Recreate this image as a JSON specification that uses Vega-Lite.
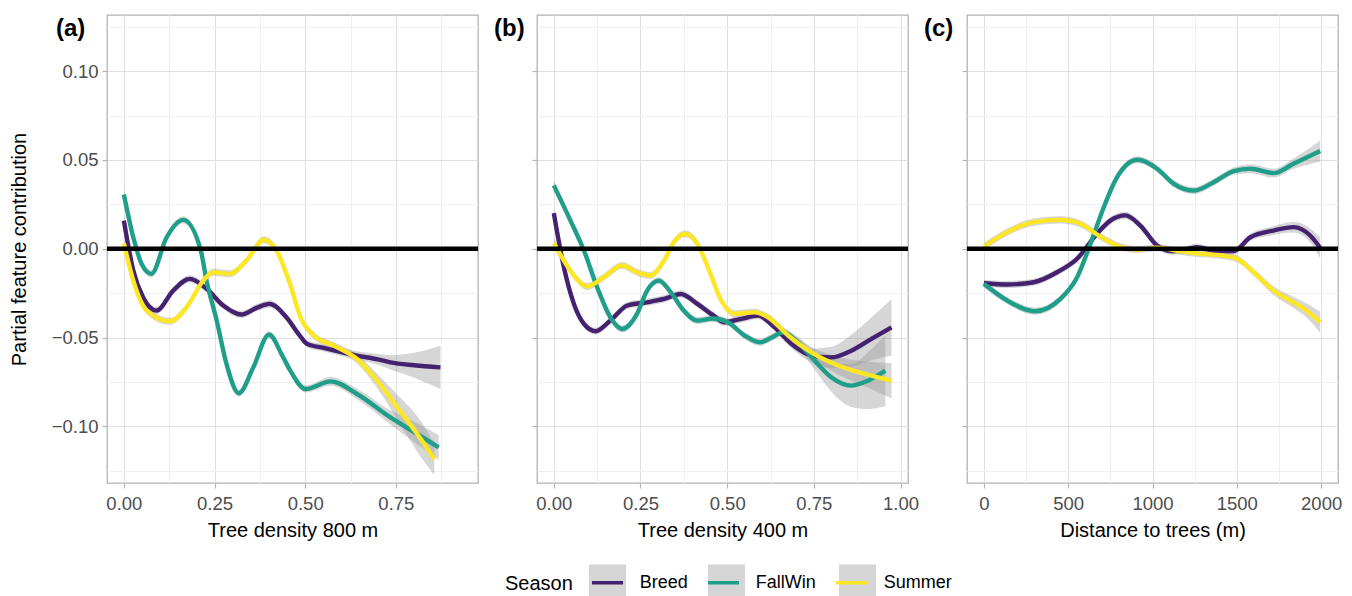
{
  "$schema": "https://vega.github.io/schema/vega-lite/v6.json",
  "padding": {"left": 8, "top": 14, "right": 5, "bottom": 0},
  "background": "white",
  "config": {
    "font": "Liberation Sans",
    "view": {"stroke": "#b3b3b3", "strokeWidth": 1.3},
    "axis": {
      "domain": false, "grid": true, "gridColor": "#e0e0e0", "gridWidth": 1,
      "tickColor": "#b3b3b3", "tickSize": 5, "tickWidth": 1.2,
      "labelFontSize": 18.5, "labelColor": "#4d4d4d", "labelOverlap": false, "labelFlush": false,
      "titleFontSize": 20, "titleFontWeight": "normal", "titleColor": "#000000"
    }
  },
  "datasets": {
    "d": [
      {"p":"a","s":"Breed","x":0,"y":0.0159,"lo":0.0129,"hi":0.0189},
      {"p":"a","s":"Breed","x":0.026,"y":-0.0122,"lo":-0.0142,"hi":-0.0102},
      {"p":"a","s":"Breed","x":0.053,"y":-0.0273,"lo":-0.0293,"hi":-0.0253},
      {"p":"a","s":"Breed","x":0.09,"y":-0.0348,"lo":-0.0368,"hi":-0.0328},
      {"p":"a","s":"Breed","x":0.136,"y":-0.0235,"lo":-0.0255,"hi":-0.0215},
      {"p":"a","s":"Breed","x":0.182,"y":-0.0169,"lo":-0.0189,"hi":-0.0149},
      {"p":"a","s":"Breed","x":0.228,"y":-0.0225,"lo":-0.0245,"hi":-0.0205},
      {"p":"a","s":"Breed","x":0.274,"y":-0.0319,"lo":-0.0339,"hi":-0.0299},
      {"p":"a","s":"Breed","x":0.324,"y":-0.037,"lo":-0.039,"hi":-0.035},
      {"p":"a","s":"Breed","x":0.366,"y":-0.0332,"lo":-0.0352,"hi":-0.0312},
      {"p":"a","s":"Breed","x":0.402,"y":-0.031,"lo":-0.033,"hi":-0.029},
      {"p":"a","s":"Breed","x":0.448,"y":-0.0385,"lo":-0.0405,"hi":-0.0365},
      {"p":"a","s":"Breed","x":0.485,"y":-0.0488,"lo":-0.0508,"hi":-0.0468},
      {"p":"a","s":"Breed","x":0.505,"y":-0.0535,"lo":-0.0555,"hi":-0.0515},
      {"p":"a","s":"Breed","x":0.551,"y":-0.0558,"lo":-0.0578,"hi":-0.0538},
      {"p":"a","s":"Breed","x":0.643,"y":-0.0601,"lo":-0.0626,"hi":-0.0576},
      {"p":"a","s":"Breed","x":0.7,"y":-0.0622,"lo":-0.0652,"hi":-0.0592},
      {"p":"a","s":"Breed","x":0.735,"y":-0.0639,"lo":-0.0679,"hi":-0.0599},
      {"p":"a","s":"Breed","x":0.8,"y":-0.0655,"lo":-0.0725,"hi":-0.0585},
      {"p":"a","s":"Breed","x":0.873,"y":-0.0667,"lo":-0.0789,"hi":-0.0545},

      {"p":"a","s":"FallWin","x":0,"y":0.0306,"lo":0.0276,"hi":0.0336},
      {"p":"a","s":"FallWin","x":0.026,"y":0.0065,"lo":0.0045,"hi":0.0085},
      {"p":"a","s":"FallWin","x":0.049,"y":-0.0085,"lo":-0.0105,"hi":-0.0065},
      {"p":"a","s":"FallWin","x":0.076,"y":-0.0141,"lo":-0.0161,"hi":-0.0121},
      {"p":"a","s":"FallWin","x":0.118,"y":0.0065,"lo":0.0045,"hi":0.0085},
      {"p":"a","s":"FallWin","x":0.164,"y":0.0163,"lo":0.0143,"hi":0.0183},
      {"p":"a","s":"FallWin","x":0.211,"y":0,"lo":-0.002,"hi":0.002},
      {"p":"a","s":"FallWin","x":0.228,"y":-0.0179,"lo":-0.0199,"hi":-0.0159},
      {"p":"a","s":"FallWin","x":0.256,"y":-0.0404,"lo":-0.0424,"hi":-0.0384},
      {"p":"a","s":"FallWin","x":0.283,"y":-0.0648,"lo":-0.0668,"hi":-0.0628},
      {"p":"a","s":"FallWin","x":0.317,"y":-0.0813,"lo":-0.0833,"hi":-0.0793},
      {"p":"a","s":"FallWin","x":0.357,"y":-0.0667,"lo":-0.0687,"hi":-0.0647},
      {"p":"a","s":"FallWin","x":0.4,"y":-0.0483,"lo":-0.0503,"hi":-0.0463},
      {"p":"a","s":"FallWin","x":0.439,"y":-0.061,"lo":-0.063,"hi":-0.059},
      {"p":"a","s":"FallWin","x":0.459,"y":-0.0686,"lo":-0.0706,"hi":-0.0666},
      {"p":"a","s":"FallWin","x":0.501,"y":-0.0789,"lo":-0.0809,"hi":-0.0769},
      {"p":"a","s":"FallWin","x":0.57,"y":-0.0746,"lo":-0.0771,"hi":-0.0721},
      {"p":"a","s":"FallWin","x":0.643,"y":-0.0817,"lo":-0.0847,"hi":-0.0787},
      {"p":"a","s":"FallWin","x":0.735,"y":-0.0949,"lo":-0.0989,"hi":-0.0909},
      {"p":"a","s":"FallWin","x":0.809,"y":-0.1042,"lo":-0.1102,"hi":-0.0982},
      {"p":"a","s":"FallWin","x":0.868,"y":-0.1118,"lo":-0.1188,"hi":-0.1048},

      {"p":"a","s":"Summer","x":0,"y":0.0032,"lo":0.0002,"hi":0.0062},
      {"p":"a","s":"Summer","x":0.026,"y":-0.0179,"lo":-0.0199,"hi":-0.0159},
      {"p":"a","s":"Summer","x":0.063,"y":-0.0348,"lo":-0.0368,"hi":-0.0328},
      {"p":"a","s":"Summer","x":0.127,"y":-0.0408,"lo":-0.0428,"hi":-0.0388},
      {"p":"a","s":"Summer","x":0.173,"y":-0.0329,"lo":-0.0349,"hi":-0.0309},
      {"p":"a","s":"Summer","x":0.219,"y":-0.0179,"lo":-0.0199,"hi":-0.0159},
      {"p":"a","s":"Summer","x":0.246,"y":-0.0132,"lo":-0.0152,"hi":-0.0112},
      {"p":"a","s":"Summer","x":0.292,"y":-0.0141,"lo":-0.0161,"hi":-0.0121},
      {"p":"a","s":"Summer","x":0.338,"y":-0.0066,"lo":-0.0086,"hi":-0.0046},
      {"p":"a","s":"Summer","x":0.386,"y":0.0051,"lo":0.0031,"hi":0.0071},
      {"p":"a","s":"Summer","x":0.421,"y":-0.001,"lo":-0.003,"hi":0.001},
      {"p":"a","s":"Summer","x":0.458,"y":-0.0197,"lo":-0.0217,"hi":-0.0177},
      {"p":"a","s":"Summer","x":0.487,"y":-0.0385,"lo":-0.0405,"hi":-0.0365},
      {"p":"a","s":"Summer","x":0.524,"y":-0.0488,"lo":-0.0508,"hi":-0.0468},
      {"p":"a","s":"Summer","x":0.579,"y":-0.0545,"lo":-0.0565,"hi":-0.0525},
      {"p":"a","s":"Summer","x":0.643,"y":-0.062,"lo":-0.0645,"hi":-0.0595},
      {"p":"a","s":"Summer","x":0.698,"y":-0.0742,"lo":-0.0782,"hi":-0.0702},
      {"p":"a","s":"Summer","x":0.754,"y":-0.0892,"lo":-0.0962,"hi":-0.0822},
      {"p":"a","s":"Summer","x":0.809,"y":-0.1042,"lo":-0.1142,"hi":-0.0942},
      {"p":"a","s":"Summer","x":0.856,"y":-0.1183,"lo":-0.1273,"hi":-0.1093},

      {"p":"b","s":"Breed","x":0,"y":0.0201,"lo":0.0171,"hi":0.0231},
      {"p":"b","s":"Breed","x":0.029,"y":-0.0104,"lo":-0.0124,"hi":-0.0084},
      {"p":"b","s":"Breed","x":0.058,"y":-0.031,"lo":-0.033,"hi":-0.029},
      {"p":"b","s":"Breed","x":0.087,"y":-0.0423,"lo":-0.0443,"hi":-0.0403},
      {"p":"b","s":"Breed","x":0.12,"y":-0.0464,"lo":-0.0484,"hi":-0.0444},
      {"p":"b","s":"Breed","x":0.163,"y":-0.0404,"lo":-0.0424,"hi":-0.0384},
      {"p":"b","s":"Breed","x":0.212,"y":-0.0319,"lo":-0.0339,"hi":-0.0299},
      {"p":"b","s":"Breed","x":0.269,"y":-0.0301,"lo":-0.0321,"hi":-0.0281},
      {"p":"b","s":"Breed","x":0.318,"y":-0.0282,"lo":-0.0302,"hi":-0.0262},
      {"p":"b","s":"Breed","x":0.366,"y":-0.0254,"lo":-0.0274,"hi":-0.0234},
      {"p":"b","s":"Breed","x":0.414,"y":-0.031,"lo":-0.033,"hi":-0.029},
      {"p":"b","s":"Breed","x":0.458,"y":-0.0372,"lo":-0.0392,"hi":-0.0352},
      {"p":"b","s":"Breed","x":0.492,"y":-0.0413,"lo":-0.0433,"hi":-0.0393},
      {"p":"b","s":"Breed","x":0.541,"y":-0.0394,"lo":-0.0414,"hi":-0.0374},
      {"p":"b","s":"Breed","x":0.589,"y":-0.0376,"lo":-0.0396,"hi":-0.0356},
      {"p":"b","s":"Breed","x":0.637,"y":-0.0442,"lo":-0.0462,"hi":-0.0422},
      {"p":"b","s":"Breed","x":0.685,"y":-0.0535,"lo":-0.056,"hi":-0.051},
      {"p":"b","s":"Breed","x":0.743,"y":-0.0601,"lo":-0.0641,"hi":-0.0561},
      {"p":"b","s":"Breed","x":0.8,"y":-0.0611,"lo":-0.0671,"hi":-0.0551},
      {"p":"b","s":"Breed","x":0.858,"y":-0.0573,"lo":-0.0663,"hi":-0.0483},
      {"p":"b","s":"Breed","x":0.916,"y":-0.0507,"lo":-0.0627,"hi":-0.0387},
      {"p":"b","s":"Breed","x":0.974,"y":-0.0442,"lo":-0.0602,"hi":-0.0282},

      {"p":"b","s":"FallWin","x":0,"y":0.0357,"lo":0.0327,"hi":0.0387},
      {"p":"b","s":"FallWin","x":0.048,"y":0.0159,"lo":0.0139,"hi":0.0179},
      {"p":"b","s":"FallWin","x":0.087,"y":-0.001,"lo":-0.003,"hi":0.001},
      {"p":"b","s":"FallWin","x":0.125,"y":-0.0216,"lo":-0.0236,"hi":-0.0196},
      {"p":"b","s":"FallWin","x":0.163,"y":-0.0385,"lo":-0.0405,"hi":-0.0365},
      {"p":"b","s":"FallWin","x":0.197,"y":-0.0451,"lo":-0.0471,"hi":-0.0431},
      {"p":"b","s":"FallWin","x":0.24,"y":-0.0366,"lo":-0.0386,"hi":-0.0346},
      {"p":"b","s":"FallWin","x":0.269,"y":-0.0235,"lo":-0.0255,"hi":-0.0215},
      {"p":"b","s":"FallWin","x":0.303,"y":-0.0179,"lo":-0.0199,"hi":-0.0159},
      {"p":"b","s":"FallWin","x":0.337,"y":-0.0244,"lo":-0.0264,"hi":-0.0224},
      {"p":"b","s":"FallWin","x":0.375,"y":-0.0348,"lo":-0.0368,"hi":-0.0328},
      {"p":"b","s":"FallWin","x":0.414,"y":-0.0404,"lo":-0.0424,"hi":-0.0384},
      {"p":"b","s":"FallWin","x":0.458,"y":-0.0392,"lo":-0.0412,"hi":-0.0372},
      {"p":"b","s":"FallWin","x":0.502,"y":-0.0413,"lo":-0.0433,"hi":-0.0393},
      {"p":"b","s":"FallWin","x":0.55,"y":-0.0488,"lo":-0.0508,"hi":-0.0468},
      {"p":"b","s":"FallWin","x":0.594,"y":-0.0526,"lo":-0.0546,"hi":-0.0506},
      {"p":"b","s":"FallWin","x":0.627,"y":-0.0501,"lo":-0.0521,"hi":-0.0481},
      {"p":"b","s":"FallWin","x":0.661,"y":-0.047,"lo":-0.049,"hi":-0.045},
      {"p":"b","s":"FallWin","x":0.704,"y":-0.0526,"lo":-0.0556,"hi":-0.0496},
      {"p":"b","s":"FallWin","x":0.752,"y":-0.0629,"lo":-0.0679,"hi":-0.0579},
      {"p":"b","s":"FallWin","x":0.8,"y":-0.0723,"lo":-0.0803,"hi":-0.0643},
      {"p":"b","s":"FallWin","x":0.858,"y":-0.077,"lo":-0.089,"hi":-0.065},
      {"p":"b","s":"FallWin","x":0.906,"y":-0.0742,"lo":-0.0902,"hi":-0.0582},
      {"p":"b","s":"FallWin","x":0.956,"y":-0.0686,"lo":-0.0886,"hi":-0.0486},

      {"p":"b","s":"Summer","x":0,"y":0.0032,"lo":0.0002,"hi":0.0062},
      {"p":"b","s":"Summer","x":0.029,"y":-0.0066,"lo":-0.0086,"hi":-0.0046},
      {"p":"b","s":"Summer","x":0.062,"y":-0.016,"lo":-0.018,"hi":-0.014},
      {"p":"b","s":"Summer","x":0.096,"y":-0.0212,"lo":-0.0232,"hi":-0.0192},
      {"p":"b","s":"Summer","x":0.144,"y":-0.016,"lo":-0.018,"hi":-0.014},
      {"p":"b","s":"Summer","x":0.197,"y":-0.0094,"lo":-0.0114,"hi":-0.0074},
      {"p":"b","s":"Summer","x":0.24,"y":-0.0132,"lo":-0.0152,"hi":-0.0112},
      {"p":"b","s":"Summer","x":0.279,"y":-0.015,"lo":-0.017,"hi":-0.013},
      {"p":"b","s":"Summer","x":0.318,"y":-0.0066,"lo":-0.0086,"hi":-0.0046},
      {"p":"b","s":"Summer","x":0.346,"y":0.0037,"lo":0.0017,"hi":0.0057},
      {"p":"b","s":"Summer","x":0.38,"y":0.0085,"lo":0.0065,"hi":0.0105},
      {"p":"b","s":"Summer","x":0.414,"y":0.0028,"lo":0.0008,"hi":0.0048},
      {"p":"b","s":"Summer","x":0.448,"y":-0.0122,"lo":-0.0142,"hi":-0.0102},
      {"p":"b","s":"Summer","x":0.483,"y":-0.0291,"lo":-0.0311,"hi":-0.0271},
      {"p":"b","s":"Summer","x":0.521,"y":-0.0366,"lo":-0.0386,"hi":-0.0346},
      {"p":"b","s":"Summer","x":0.579,"y":-0.0357,"lo":-0.0377,"hi":-0.0337},
      {"p":"b","s":"Summer","x":0.618,"y":-0.0385,"lo":-0.0405,"hi":-0.0365},
      {"p":"b","s":"Summer","x":0.676,"y":-0.0488,"lo":-0.0513,"hi":-0.0463},
      {"p":"b","s":"Summer","x":0.743,"y":-0.0583,"lo":-0.0613,"hi":-0.0553},
      {"p":"b","s":"Summer","x":0.82,"y":-0.0657,"lo":-0.0707,"hi":-0.0607},
      {"p":"b","s":"Summer","x":0.897,"y":-0.0704,"lo":-0.0774,"hi":-0.0634},
      {"p":"b","s":"Summer","x":0.974,"y":-0.0742,"lo":-0.0842,"hi":-0.0642},

      {"p":"c","s":"Breed","x":0,"y":-0.0194,"lo":-0.0214,"hi":-0.0174},
      {"p":"c","s":"Breed","x":138,"y":-0.0201,"lo":-0.0221,"hi":-0.0181},
      {"p":"c","s":"Breed","x":296,"y":-0.0188,"lo":-0.0208,"hi":-0.0168},
      {"p":"c","s":"Breed","x":434,"y":-0.0132,"lo":-0.0152,"hi":-0.0112},
      {"p":"c","s":"Breed","x":553,"y":-0.0056,"lo":-0.0076,"hi":-0.0036},
      {"p":"c","s":"Breed","x":671,"y":0.0085,"lo":0.0065,"hi":0.0105},
      {"p":"c","s":"Breed","x":750,"y":0.0159,"lo":0.0139,"hi":0.0179},
      {"p":"c","s":"Breed","x":839,"y":0.0188,"lo":0.0168,"hi":0.0208},
      {"p":"c","s":"Breed","x":928,"y":0.0131,"lo":0.0111,"hi":0.0151},
      {"p":"c","s":"Breed","x":1027,"y":0.0019,"lo":-0.0001,"hi":0.0039},
      {"p":"c","s":"Breed","x":1115,"y":-0.0013,"lo":-0.0033,"hi":0.0007},
      {"p":"c","s":"Breed","x":1185,"y":-0.0006,"lo":-0.0026,"hi":0.0014},
      {"p":"c","s":"Breed","x":1264,"y":0.0009,"lo":-0.0011,"hi":0.0029},
      {"p":"c","s":"Breed","x":1363,"y":-0.001,"lo":-0.003,"hi":0.001},
      {"p":"c","s":"Breed","x":1481,"y":-0.0013,"lo":-0.0033,"hi":0.0007},
      {"p":"c","s":"Breed","x":1580,"y":0.0065,"lo":0.0045,"hi":0.0085},
      {"p":"c","s":"Breed","x":1718,"y":0.0103,"lo":0.0078,"hi":0.0128},
      {"p":"c","s":"Breed","x":1836,"y":0.0122,"lo":0.0092,"hi":0.0152},
      {"p":"c","s":"Breed","x":1935,"y":0.0075,"lo":0.0035,"hi":0.0115},
      {"p":"c","s":"Breed","x":1994,"y":0.0006,"lo":-0.0054,"hi":0.0066},

      {"p":"c","s":"FallWin","x":0,"y":-0.0197,"lo":-0.0217,"hi":-0.0177},
      {"p":"c","s":"FallWin","x":138,"y":-0.0291,"lo":-0.0311,"hi":-0.0271},
      {"p":"c","s":"FallWin","x":306,"y":-0.0351,"lo":-0.0371,"hi":-0.0331},
      {"p":"c","s":"FallWin","x":454,"y":-0.0282,"lo":-0.0302,"hi":-0.0262},
      {"p":"c","s":"FallWin","x":553,"y":-0.016,"lo":-0.018,"hi":-0.014},
      {"p":"c","s":"FallWin","x":632,"y":0.0028,"lo":0.0008,"hi":0.0048},
      {"p":"c","s":"FallWin","x":711,"y":0.0234,"lo":0.0214,"hi":0.0254},
      {"p":"c","s":"FallWin","x":790,"y":0.0403,"lo":0.0383,"hi":0.0423},
      {"p":"c","s":"FallWin","x":912,"y":0.0501,"lo":0.0481,"hi":0.0521},
      {"p":"c","s":"FallWin","x":1027,"y":0.0451,"lo":0.0431,"hi":0.0471},
      {"p":"c","s":"FallWin","x":1126,"y":0.0366,"lo":0.0346,"hi":0.0386},
      {"p":"c","s":"FallWin","x":1244,"y":0.0328,"lo":0.0308,"hi":0.0348},
      {"p":"c","s":"FallWin","x":1363,"y":0.0375,"lo":0.0355,"hi":0.0395},
      {"p":"c","s":"FallWin","x":1481,"y":0.0437,"lo":0.0417,"hi":0.0457},
      {"p":"c","s":"FallWin","x":1580,"y":0.0451,"lo":0.0426,"hi":0.0476},
      {"p":"c","s":"FallWin","x":1718,"y":0.0426,"lo":0.0401,"hi":0.0451},
      {"p":"c","s":"FallWin","x":1836,"y":0.0479,"lo":0.0449,"hi":0.0509},
      {"p":"c","s":"FallWin","x":1994,"y":0.055,"lo":0.049,"hi":0.061},

      {"p":"c","s":"Summer","x":0,"y":0.0013,"lo":-0.0007,"hi":0.0033},
      {"p":"c","s":"Summer","x":138,"y":0.0094,"lo":0.0074,"hi":0.0114},
      {"p":"c","s":"Summer","x":296,"y":0.015,"lo":0.013,"hi":0.017},
      {"p":"c","s":"Summer","x":454,"y":0.0163,"lo":0.0143,"hi":0.0183},
      {"p":"c","s":"Summer","x":572,"y":0.0141,"lo":0.0121,"hi":0.0161},
      {"p":"c","s":"Summer","x":691,"y":0.0069,"lo":0.0049,"hi":0.0089},
      {"p":"c","s":"Summer","x":790,"y":0.0019,"lo":-0.0001,"hi":0.0039},
      {"p":"c","s":"Summer","x":908,"y":-0.0004,"lo":-0.0024,"hi":0.0016},
      {"p":"c","s":"Summer","x":1027,"y":0.0006,"lo":-0.0014,"hi":0.0026},
      {"p":"c","s":"Summer","x":1165,"y":-0.0013,"lo":-0.0033,"hi":0.0007},
      {"p":"c","s":"Summer","x":1283,"y":-0.0028,"lo":-0.0048,"hi":-0.0008},
      {"p":"c","s":"Summer","x":1402,"y":-0.0036,"lo":-0.0056,"hi":-0.0016},
      {"p":"c","s":"Summer","x":1501,"y":-0.0056,"lo":-0.0076,"hi":-0.0036},
      {"p":"c","s":"Summer","x":1600,"y":-0.0132,"lo":-0.0152,"hi":-0.0112},
      {"p":"c","s":"Summer","x":1718,"y":-0.0235,"lo":-0.026,"hi":-0.021},
      {"p":"c","s":"Summer","x":1816,"y":-0.0291,"lo":-0.0321,"hi":-0.0261},
      {"p":"c","s":"Summer","x":1915,"y":-0.0348,"lo":-0.0388,"hi":-0.0308},
      {"p":"c","s":"Summer","x":1994,"y":-0.0413,"lo":-0.0473,"hi":-0.0353}
    ]
  },
  "bounds": "flush",
  "spacing": 59,
  "hconcat": [
    {
      "width": 371, "height": 468,
      "title": {"text": "(a)", "anchor": "start", "frame": "group", "fontSize": 24, "fontWeight": "bold", "color": "#000000", "dx": -51, "dy": 45, "offset": 0, "baseline": "alphabetic"},
      "data": {"name": "d"},
      "transform": [{"filter": "datum.p == 'a'"}],
      "layer": [
        {
          "mark": {"type": "area", "opacity": 0.4, "interpolate": "monotone", "clip": true},
          "encoding": {
            "x": {"field": "x", "type": "quantitative", "scale": {"domain": [-0.0465, 0.9765], "zero": false, "nice": false},
              "axis": {"title": "Tree density 800 m", "values": [0, 0.125, 0.25, 0.375, 0.5, 0.625, 0.75, 0.875], "format": ".2f",
                "labelExpr": "round(datum.value*8) % 2 == 0 ? datum.label : ''",
                "tickOpacity": {"condition": {"test": "round(datum.value*8) % 2 != 0", "value": 0}, "value": 1},
                "gridColor": {"condition": {"test": "round(datum.value*8) % 2 != 0", "value": "#f0f0f0"}, "value": "#e0e0e0"},
                "labelPadding": 6, "titlePadding": 8}},
            "y": {"field": "lo", "type": "quantitative", "scale": {"domain": [-0.1318, 0.1316], "zero": false, "nice": false},
              "axis": {"title": "Partial feature contribution", "values": [-0.125, -0.1, -0.075, -0.05, -0.025, 0, 0.025, 0.05, 0.075, 0.1, 0.125], "format": ".2f",
                "labelExpr": "abs(round(datum.value*400)) % 20 == 0 ? datum.label : ''",
                "tickOpacity": {"condition": {"test": "abs(round(datum.value*400)) % 20 != 0", "value": 0}, "value": 1},
                "gridColor": {"condition": {"test": "abs(round(datum.value*400)) % 20 != 0", "value": "#f0f0f0"}, "value": "#e0e0e0"},
                "labelPadding": 4, "titlePadding": 22}},
            "y2": {"field": "hi"},
            "fill": {"field": "s", "type": "nominal",
              "scale": {"domain": ["Breed", "FallWin", "Summer"], "range": ["#999999", "#999999", "#999999"]},
              "legend": {"orient": "none", "legendX": 398, "legendY": 547, "direction": "horizontal", "title": "Season", "titleOrient": "left",
                "titleAnchor": "middle", "titleBaseline": "line-top", "titleLineHeight": 13.8, "titleOpacity": 0, "labelOpacity": 0,
                "symbolType": "M-1,-1H1V0.73H-1Z", "symbolSize": 1369, "symbolStrokeWidth": 3.6, "symbolStrokeColor": "transparent", "symbolOpacity": 0.4,
                "labelOffset": 11.7, "columnPadding": 12, "titlePadding": 14, "labelFontSize": 18, "titleFontSize": 20, "titleFontWeight": "normal", "padding": 0, "zindex": 0}}
          }
        },
        {
          "mark": {"type": "line", "strokeWidth": 4.4, "interpolate": "monotone", "clip": true},
          "encoding": {
            "x": {"field": "x", "type": "quantitative", "scale": {"domain": [-0.0465, 0.9765], "zero": false, "nice": false}},
            "y": {"field": "y", "type": "quantitative", "scale": {"domain": [-0.1318, 0.1316], "zero": false, "nice": false}},
            "color": {"field": "s", "type": "nominal",
              "scale": {"range": ["#45226f", "#1f9e89", "#fde725"]},
              "legend": {"orient": "none", "legendX": 398, "legendY": 547, "direction": "horizontal", "title": "Season", "titleOrient": "left",
                "titleAnchor": "middle", "titleBaseline": "line-top", "titleLineHeight": 13.8, "titleColor": "#000000", "labelColor": "#000000",
                "symbolType": "M-0.84,0H0.84", "symbolSize": 1369, "symbolStrokeWidth": 3.6, "symbolFillColor": "transparent",
                "labelOffset": 11.7, "columnPadding": 12, "titlePadding": 14, "labelFontSize": 18, "titleFontSize": 20, "titleFontWeight": "normal", "padding": 0, "zindex": 1}}
          }
        },
        {
          "data": {"values": [{}]},
          "mark": {"type": "rule", "color": "#000000", "strokeWidth": 4.5},
          "encoding": {"y": {"datum": 0, "scale": {"domain": [-0.1318, 0.1316], "zero": false, "nice": false}}}
        }
      ]
    },
    {
      "width": 371, "height": 468,
      "title": {"text": "(b)", "anchor": "start", "frame": "group", "fontSize": 24, "fontWeight": "bold", "color": "#000000", "dx": -43, "dy": 45, "offset": 0, "baseline": "alphabetic"},
      "data": {"name": "d"},
      "transform": [{"filter": "datum.p == 'b'"}],
      "layer": [
        {
          "mark": {"type": "area", "opacity": 0.4, "interpolate": "monotone", "clip": true},
          "encoding": {
            "x": {"field": "x", "type": "quantitative", "scale": {"domain": [-0.0485, 1.0215], "zero": false, "nice": false},
              "axis": {"title": "Tree density 400 m", "values": [0, 0.125, 0.25, 0.375, 0.5, 0.625, 0.75, 0.875, 1], "format": ".2f",
                "labelExpr": "round(datum.value*8) % 2 == 0 ? datum.label : ''",
                "tickOpacity": {"condition": {"test": "round(datum.value*8) % 2 != 0", "value": 0}, "value": 1},
                "gridColor": {"condition": {"test": "round(datum.value*8) % 2 != 0", "value": "#f0f0f0"}, "value": "#e0e0e0"},
                "labelPadding": 6, "titlePadding": 8}},
            "y": {"field": "lo", "type": "quantitative", "scale": {"domain": [-0.1318, 0.1316], "zero": false, "nice": false},
              "axis": {"title": null, "labels": false, "values": [-0.125, -0.1, -0.075, -0.05, -0.025, 0, 0.025, 0.05, 0.075, 0.1, 0.125],
                "tickOpacity": {"condition": {"test": "abs(round(datum.value*400)) % 20 != 0", "value": 0}, "value": 1},
                "gridColor": {"condition": {"test": "abs(round(datum.value*400)) % 20 != 0", "value": "#f0f0f0"}, "value": "#e0e0e0"}}},
            "y2": {"field": "hi"},
            "fill": {"field": "s", "type": "nominal",
              "scale": {"domain": ["Breed", "FallWin", "Summer"], "range": ["#999999", "#999999", "#999999"]}}
          }
        },
        {
          "mark": {"type": "line", "strokeWidth": 4.4, "interpolate": "monotone", "clip": true},
          "encoding": {
            "x": {"field": "x", "type": "quantitative", "scale": {"domain": [-0.0485, 1.0215], "zero": false, "nice": false}},
            "y": {"field": "y", "type": "quantitative", "scale": {"domain": [-0.1318, 0.1316], "zero": false, "nice": false}},
            "color": {"field": "s", "type": "nominal"}
          }
        },
        {
          "data": {"values": [{}]},
          "mark": {"type": "rule", "color": "#000000", "strokeWidth": 4.5},
          "encoding": {"y": {"datum": 0, "scale": {"domain": [-0.1318, 0.1316], "zero": false, "nice": false}}}
        }
      ]
    },
    {
      "width": 371, "height": 468,
      "title": {"text": "(c)", "anchor": "start", "frame": "group", "fontSize": 24, "fontWeight": "bold", "color": "#000000", "dx": -43, "dy": 45, "offset": 0, "baseline": "alphabetic"},
      "data": {"name": "d"},
      "transform": [{"filter": "datum.p == 'c'"}],
      "layer": [
        {
          "mark": {"type": "area", "opacity": 0.4, "interpolate": "monotone", "clip": true},
          "encoding": {
            "x": {"field": "x", "type": "quantitative", "scale": {"domain": [-100, 2100], "zero": false, "nice": false},
              "axis": {"title": "Distance to trees (m)", "values": [0, 250, 500, 750, 1000, 1250, 1500, 1750, 2000], "format": "d",
                "labelExpr": "round(datum.value/250) % 2 == 0 ? datum.label : ''",
                "tickOpacity": {"condition": {"test": "round(datum.value/250) % 2 != 0", "value": 0}, "value": 1},
                "gridColor": {"condition": {"test": "round(datum.value/250) % 2 != 0", "value": "#f0f0f0"}, "value": "#e0e0e0"},
                "labelPadding": 6, "titlePadding": 8}},
            "y": {"field": "lo", "type": "quantitative", "scale": {"domain": [-0.1318, 0.1316], "zero": false, "nice": false},
              "axis": {"title": null, "labels": false, "values": [-0.125, -0.1, -0.075, -0.05, -0.025, 0, 0.025, 0.05, 0.075, 0.1, 0.125],
                "tickOpacity": {"condition": {"test": "abs(round(datum.value*400)) % 20 != 0", "value": 0}, "value": 1},
                "gridColor": {"condition": {"test": "abs(round(datum.value*400)) % 20 != 0", "value": "#f0f0f0"}, "value": "#e0e0e0"}}},
            "y2": {"field": "hi"},
            "fill": {"field": "s", "type": "nominal",
              "scale": {"domain": ["Breed", "FallWin", "Summer"], "range": ["#999999", "#999999", "#999999"]}}
          }
        },
        {
          "mark": {"type": "line", "strokeWidth": 4.4, "interpolate": "monotone", "clip": true},
          "encoding": {
            "x": {"field": "x", "type": "quantitative", "scale": {"domain": [-100, 2100], "zero": false, "nice": false}},
            "y": {"field": "y", "type": "quantitative", "scale": {"domain": [-0.1318, 0.1316], "zero": false, "nice": false}},
            "color": {"field": "s", "type": "nominal"}
          }
        },
        {
          "data": {"values": [{}]},
          "mark": {"type": "rule", "color": "#000000", "strokeWidth": 4.5},
          "encoding": {"y": {"datum": 0, "scale": {"domain": [-0.1318, 0.1316], "zero": false, "nice": false}}}
        }
      ]
    }
  ]
}
